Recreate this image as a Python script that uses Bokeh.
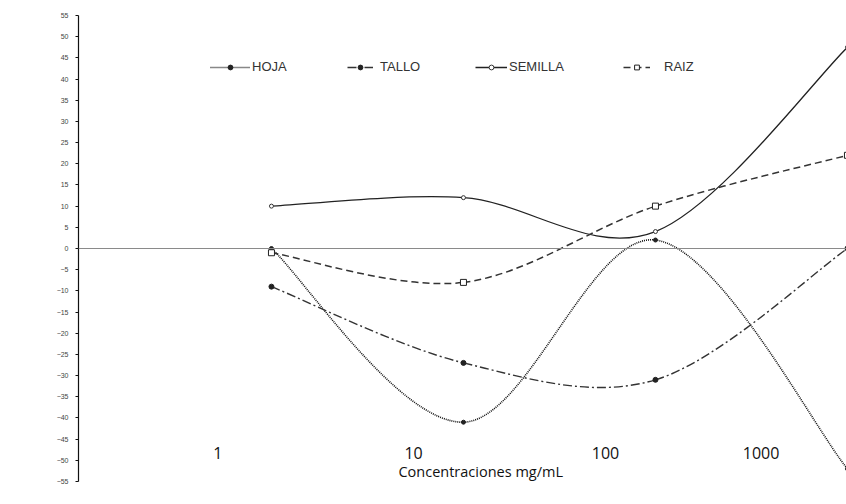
import numpy as np
from bokeh.plotting import figure
from bokeh.models import (Range1d, Span, Label, Legend, LegendItem,
                          SingleIntervalTicker, ColumnDataSource)
from bokeh.embed import file_html
from bokeh.resources import INLINE
from bokeh.core.properties import value

# ---- data ----
categories = [1, 2, 3, 4]
tick_labels = ["1", "10", "100", "1000"]
hoja = [0, -41, 2, -52]
tallo = [-9, -27, -31, 0]
semilla = [10, 12, 4, 47.5]
raiz = [-1, -8, 10, 22]

# ---- layout ----
label_x = [0.72, 1.74, 2.74, 3.55]   # where the concentration labels sit (data units)
label_y = -48.2


def smooth_source(xs, ys, t=1.0 / 6.0):
    """Excel-like smoothed line: cubic Bezier control points from neighbouring points."""
    xs = np.asarray(xs, float)
    ys = np.asarray(ys, float)
    n = len(xs)
    d = dict(x0=[], y0=[], x1=[], y1=[], cx0=[], cy0=[], cx1=[], cy1=[])
    for i in range(n - 1):
        im1 = max(i - 1, 0)
        ip2 = min(i + 2, n - 1)
        d["x0"].append(xs[i]); d["y0"].append(ys[i])
        d["x1"].append(xs[i + 1]); d["y1"].append(ys[i + 1])
        d["cx0"].append(xs[i] + (xs[i + 1] - xs[im1]) * t)
        d["cy0"].append(ys[i] + (ys[i + 1] - ys[im1]) * t)
        d["cx1"].append(xs[i + 1] - (xs[ip2] - xs[i]) * t)
        d["cy1"].append(ys[i + 1] - (ys[ip2] - ys[i]) * t)
    return ColumnDataSource(d)


p = figure(width=846, height=488, output_backend="svg", toolbar_location=None,
           x_range=Range1d(-0.005, 3.995), y_range=Range1d(-55, 55),
           x_axis_location=None,
           min_border_left=78, min_border_right=0, min_border_top=15, min_border_bottom=7)
p.outline_line_color = None
p.xgrid.visible = False
p.ygrid.visible = False
p.background_fill_color = "white"

ax = p.yaxis[0]
ax.ticker = SingleIntervalTicker(interval=5, num_minor_ticks=0)
ax.major_tick_in = 0
ax.major_tick_out = 3
ax.minor_tick_in = 0
ax.minor_tick_out = 0
ax.axis_line_color = "#111111"
ax.axis_line_width = 1.2
ax.major_tick_line_color = "#111111"
ax.major_label_text_font = "Liberation Sans"
ax.major_label_text_font_size = "7px"
ax.major_label_text_color = "#444444"
ax.major_label_standoff = 7

p.add_layout(Span(location=0, dimension="width", line_color="#8a8a8a", line_width=1))

series = [
    ("HOJA", hoja, dict(line_dash="1 1", line_width=1.6, line_color="#111111"),
     dict(marker="circle", size=4, fill_color="#222222", line_color="#222222")),
    ("TALLO", tallo, dict(line_dash="9 3 2 3", line_width=1.4, line_color="#333333"),
     dict(marker="circle", size=5, fill_color="#222222", line_color="#222222")),
    ("SEMILLA", semilla, dict(line_width=1.3, line_color="#222222"),
     dict(marker="circle", size=4, fill_color="white", line_color="#333333", line_width=1)),
    ("RAIZ", raiz, dict(line_dash="7 4", line_width=1.5, line_color="#333333"),
     dict(marker="square", size=6, fill_color="white", line_color="#222222", line_width=1)),
]

legend_pos = {"HOJA": (132, 407, 40, 2), "TALLO": (269, 407, 26, 7),
              "SEMILLA": (397, 407, 32, 2), "RAIZ": (545, 407, 27, 14)}

for name, ys, lstyle, mstyle in series:
    src = smooth_source(categories, ys)
    rl = p.bezier(x0="x0", y0="y0", x1="x1", y1="y1", cx0="cx0", cy0="cy0",
                  cx1="cx1", cy1="cy1", source=src, **lstyle)
    rs = p.scatter(x=categories, y=ys, **mstyle)
    vx, vy, gw, st = legend_pos[name]
    lg = Legend(items=[LegendItem(label=name, renderers=[rl, rs])],
                location=(vx, vy), orientation="horizontal",
                glyph_width=gw, glyph_height=12, label_height=12, label_width=10,
                label_standoff=st, padding=0, margin=0, spacing=0,
                border_line_color=None, background_fill_alpha=0,
                label_text_font="Liberation Sans", label_text_font_size="13px",
                label_text_color="#333333")
    p.add_layout(lg)

p.text(x=label_x, y=[label_y] * len(tick_labels), text=tick_labels,
       text_font=value("Open Sans"), text_font_size="16px",
       text_align="center", text_baseline="middle", text_color="#111111")

p.add_layout(Label(x=2.09, y=10, x_units="data", y_units="screen",
                   text="Concentraciones mg/mL", text_font="Open Sans",
                   text_font_size="14.5px", text_color="#111111",
                   text_align="center", text_baseline="middle"))

p.add_layout(Label(x=-64, y=218, x_units="screen", y_units="screen",
                   angle=90, angle_units="deg",
                   text="Diferencias Minimas Significativas", text_font="Liberation Sans",
                   text_font_size="12.5px", text_color="#333333",
                   text_align="center", text_baseline="middle"))

open("out.html", "w").write(file_html(p, INLINE))
